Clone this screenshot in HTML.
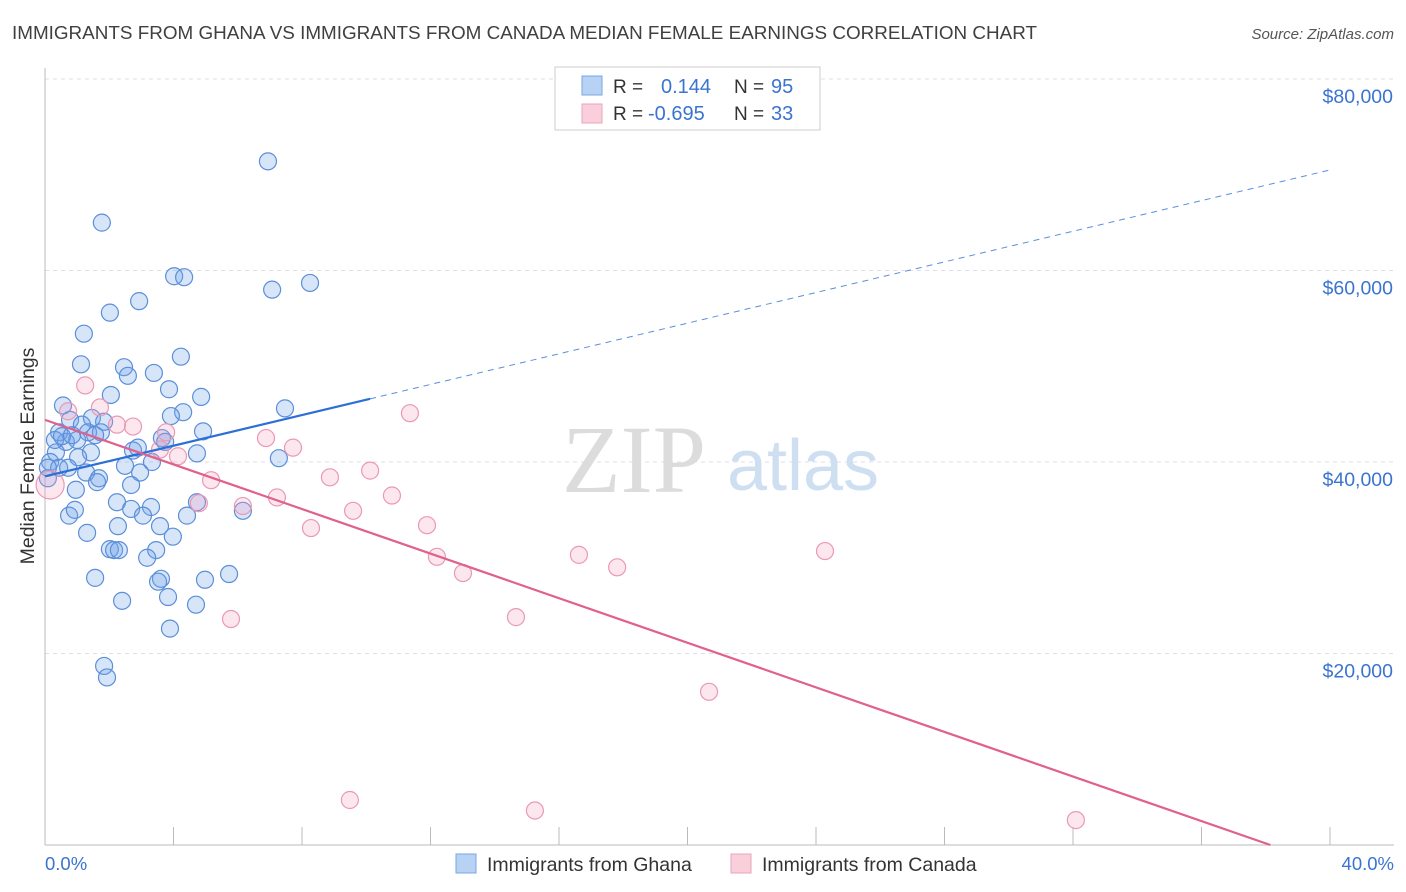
<!DOCTYPE html>
<html><head><meta charset="utf-8"><style>
body{margin:0;background:#fff;font-family:"Liberation Sans",sans-serif}
svg{display:block}
</style></head><body>
<svg id="chart" width="1406" height="892" xmlns="http://www.w3.org/2000/svg" font-family="Liberation Sans, sans-serif">
<text x="12" y="39" font-size="18.8" fill="#404040" textLength="1025" lengthAdjust="spacingAndGlyphs">IMMIGRANTS FROM GHANA VS IMMIGRANTS FROM CANADA MEDIAN FEMALE EARNINGS CORRELATION CHART</text>
<text x="1394" y="39" font-size="15" fill="#555" font-style="italic" text-anchor="end">Source: ZipAtlas.com</text>
<g id="grid"></g>
<g>
<text x="634" y="492" font-size="96" fill="#dcdcdc" font-family="Liberation Serif, serif" text-anchor="middle">ZIP</text>
<text x="803" y="490" font-size="72" fill="#cfdff2" text-anchor="middle">atlas</text>
</g>
<g id="axes"></g>
<g id="pts"></g>
<g id="lines"></g>
<text transform="translate(34,456) rotate(-90)" font-size="19.5" fill="#333" text-anchor="middle">Median Female Earnings</text>
<g>
<rect x="555" y="67" width="265" height="63" fill="#fff" stroke="#ccc"/>
<rect x="582" y="76" width="20" height="19" fill="#b8d2f4" stroke="#7aa6e4"/>
<rect x="582" y="104" width="20" height="19" fill="#f9cfdc" stroke="#eba3bb"/>
<text x="613" y="93" font-size="19" fill="#333">R =</text>
<text x="661" y="93" font-size="20" fill="#3a74d0">0.144</text>
<text x="734" y="93" font-size="19" fill="#333">N =</text>
<text x="771" y="93" font-size="20" fill="#3a74d0">95</text>
<text x="613" y="120" font-size="19" fill="#333">R =</text>
<text x="648" y="120" font-size="20" fill="#3a74d0">-0.695</text>
<text x="734" y="120" font-size="19" fill="#333">N =</text>
<text x="771" y="120" font-size="20" fill="#3a74d0">33</text>
</g>
<g>
<rect x="456" y="854" width="20" height="19" fill="#b8d2f4" stroke="#7aa6e4"/>
<text x="487" y="871" font-size="19.5" fill="#333">Immigrants from Ghana</text>
<rect x="731" y="854" width="20" height="19" fill="#f9cfdc" stroke="#eba3bb"/>
<text x="762" y="871" font-size="19.5" fill="#333">Immigrants from Canada</text>
</g>
</svg>
<script>
const yTicks=[20000,40000,60000,80000];
const yTickLabels=["$20,000","$40,000","$60,000","$80,000"];
const xTicks=[0,4,8,12,16,20,24,28,32,36,40];
const blueX=[6.94,1.77,4.02,4.33,7.07,8.25,2.93,2.02,1.21,1.12,2.46,4.23,2.58,3.39,2.05,3.86,4.86,0.56,4.30,3.92,1.46,0.78,7.47,1.15,1.84,0.44,1.34,1.00,0.65,1.74,4.92,3.64,2.74,2.89,3.74,0.34,1.43,1.03,4.73,7.28,0.16,0.44,0.72,1.28,1.68,1.62,2.49,3.33,2.96,0.09,0.96,2.68,2.24,4.73,2.68,3.30,6.16,4.42,0.75,0.93,3.05,2.27,3.58,1.31,3.98,2.02,2.15,2.30,3.46,3.18,3.61,1.56,3.52,4.98,5.73,3.83,4.70,2.40,3.89,1.84,1.93,0.31,0.09,0.53,1.56,0.84];
const blueY=[71.4,65.0,59.4,59.3,58.0,58.7,56.8,55.6,53.4,50.2,49.9,51.0,49.0,49.3,47.0,47.6,46.8,45.9,45.2,44.8,44.6,44.4,45.6,43.9,44.2,43.1,43.1,42.3,42.1,43.1,43.2,42.5,41.2,41.5,42.1,41.0,41.0,40.5,40.9,40.4,40.0,39.4,39.4,38.9,38.3,37.9,39.6,40.0,38.9,38.3,37.1,37.6,35.8,35.8,35.1,35.3,34.9,34.4,34.4,35.0,34.4,33.3,33.3,32.6,32.2,30.9,30.8,30.8,30.8,30.0,27.8,27.9,27.5,27.7,28.3,25.9,25.1,25.5,22.6,18.7,17.5,42.3,39.4,42.7,42.8,42.8];
const pinkX=[0.16,0.72,1.25,1.71,2.24,2.74,3.58,3.77,4.14,4.79,5.17,6.16,6.88,7.22,7.72,8.28,8.87,9.59,10.12,10.80,11.36,11.89,12.20,13.01,14.66,16.62,17.81,20.67,24.28,9.49,15.25,32.09,5.79];
const pinkY=[37.6,45.3,48.0,45.7,43.9,43.7,41.3,43.1,40.6,35.7,38.1,35.4,42.5,36.3,41.5,33.1,38.4,34.9,39.1,36.5,45.1,33.4,30.1,28.4,23.8,30.3,29.0,16.0,30.7,4.7,3.6,2.6,23.6];
const blueTrend=[38.5,0.8];
const pinkTrend=[44.4,-1.164];
const NS="http://www.w3.org/2000/svg";
const sx=p=>45+p*32.125;
const sy=k=>845-k*1000*191.5/20000;
function mk(parent,tag,attrs){const e=document.createElementNS(NS,tag);for(const k in attrs)e.setAttribute(k,attrs[k]);parent.appendChild(e);return e;}
const grid=document.getElementById('grid'),axes=document.getElementById('axes'),pts=document.getElementById('pts'),lines=document.getElementById('lines');
yTicks.forEach((v,i)=>{const y=sy(v/1000);
const g=mk(grid,'line',{x1:45,x2:1394,y1:y,y2:y,stroke:'#dde',"stroke-dasharray":"4,4"});


const t=mk(axes,'text',{x:1393,y:y+24,"font-size":19.5,fill:'#3a74d0',"text-anchor":'end'});t.textContent=yTickLabels[i];

});
const ax=mk(axes,'line',{x1:45,x2:1394,y1:845,y2:845,stroke:'#bbb'});


const ay=mk(axes,'line',{x1:45,x2:45,y1:68,y2:845,stroke:'#bbb'});


xTicks.forEach(p=>{const x=sx(p);const l=mk(axes,'line',{x1:x,x2:x,y1:827,y2:845,stroke:'#bbb'});

});
const x0=mk(axes,'text',{x:45,y:870,"font-size":18.5,fill:'#3a74d0'});x0.textContent=xTicks[0].toFixed(1)+'%';


const x1=mk(axes,'text',{x:1394,y:870,"font-size":18.5,fill:'#3a74d0',"text-anchor":'end'});x1.textContent=xTicks[xTicks.length-1].toFixed(1)+'%';


blueX.forEach((p,i)=>{const c=mk(pts,'circle',{cx:sx(p),cy:sy(blueY[i]),r:8.5,fill:'rgba(110,160,235,0.28)',stroke:'#5b8fd9',"stroke-width":1.2});

});
pinkX.forEach((p,i)=>{const c=mk(pts,'circle',{cx:sx(p),cy:sy(pinkY[i]),r:i===0?14:8.5,fill:'rgba(245,160,190,0.25)',stroke:'#eb98b4',"stroke-width":1.2});

});
const bEnd=10.12;
const bl=mk(lines,'line',{x1:sx(0),y1:sy(blueTrend[0]),x2:sx(bEnd),y2:sy(blueTrend[0]+blueTrend[1]*bEnd),stroke:'#2c6fd6',"stroke-width":2.2});


const bd=mk(lines,'line',{x1:sx(bEnd),y1:sy(blueTrend[0]+blueTrend[1]*bEnd),x2:sx(40),y2:sy(blueTrend[0]+blueTrend[1]*40),stroke:'#5b8fd9',"stroke-width":1,"stroke-dasharray":"6,5"});


const pEnd=-pinkTrend[0]/pinkTrend[1];
const pl=mk(lines,'line',{x1:sx(0),y1:sy(pinkTrend[0]),x2:sx(pEnd),y2:sy(0),stroke:'#e0608e',"stroke-width":2.2});


</script>
</body></html>
